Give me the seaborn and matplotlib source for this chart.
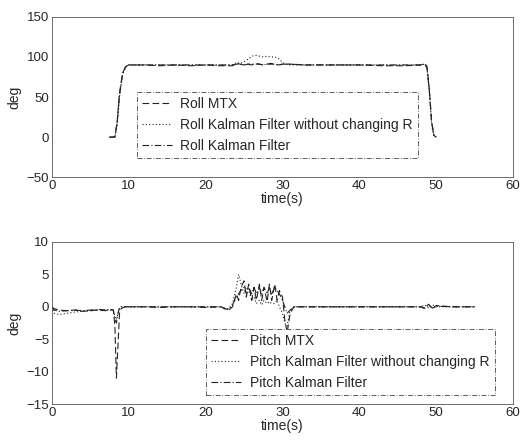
import numpy as np
import pandas as pd
import matplotlib
matplotlib.use("Agg")
import matplotlib.pyplot as plt
import seaborn as sns

# ---- roll data ----
roll_t = [7.5, 8.2, 8.5, 8.8, 9.2, 9.6, 10, 12, 14, 16, 18, 20, 22, 23.5, 24,
          24.5, 25, 25.5, 26, 26.5, 27, 27.5, 28, 28.5, 29, 29.5, 30, 30.5, 31,
          33, 35, 37, 40, 43, 46, 48, 48.5, 48.8, 49.1, 49.4, 49.7, 50]
roll_mtx = [0, 0, 20, 55, 80, 88, 90, 90, 89, 90, 89, 90, 89, 89, 92,
            91, 90, 91, 90, 92, 91, 90, 91, 92, 91, 90, 91, 91, 91,
            90, 90, 90, 90, 89, 89, 90, 92, 88, 60, 20, 2, 0]
roll_kf_noR = [0, 0, 15, 50, 78, 87, 90, 90, 90, 90, 90, 90, 90, 90, 93,
               92, 94, 97, 101, 102, 101, 100, 101, 100, 100, 98, 93, 91, 90,
               90, 90, 90, 90, 90, 90, 90, 91, 85, 55, 15, 1, 0]
roll_kf = [0, 0, 18, 52, 79, 88, 90, 90, 90, 90, 90, 90, 90, 90, 91,
           91, 90, 91, 91, 91, 91, 90, 91, 91, 91, 90, 91, 91, 91,
           90, 90, 90, 90, 90, 90, 90, 91, 86, 58, 18, 2, 0]

# ---- pitch data ----
pitch_t = [0, 0.3, 1, 2, 3, 4, 5, 6, 7, 7.5, 8, 8.2, 8.4, 8.6, 8.8, 9, 9.5, 10,
           11, 12, 14, 16, 18, 20, 22, 22.5, 23, 23.5, 24, 24.3, 24.6, 25, 25.3,
           25.6, 26, 26.3, 26.6, 27, 27.3, 27.6, 28, 28.3, 28.6, 29, 29.3, 29.6,
           30, 30.3, 30.6, 31, 31.5, 33, 36, 40, 44, 48, 48.5, 49, 49.5, 50, 52, 55]
pitch_mtx = [0, -0.3, -0.5, -0.6, -0.5, -0.7, -0.6, -0.5, -0.6, -0.4, -0.5, -3, -11, -6, -1, -0.3, 0, 0,
             0, 0, -0.1, 0, 0, -0.1, 0, -0.3, -0.5, 0, 2, 1, 3, 4, 1.5,
             3.5, 1, 3, 1, 3.5, 1, 3, 0.8, 3.5, 1, 3.5, 1, 2.5,
             1.5, -2, -4, -1, 0, 0, 0, 0, 0, 0, -0.3, 0.4, -0.3, 0.2, 0, 0]
pitch_kf_noR = [0, -1, -1.2, -1, -0.8, -0.7, -0.6, -0.5, -0.5, -0.5, -0.6, -1.5, -2, -1, -0.2, 0, 0, 0,
                0, 0, 0, 0, 0, 0, 0, -0.2, -0.3, 0.5, 3, 5, 3.5, 2, 3,
                2.5, 1, 1.5, 0.5, 1, 0.3, 1, 0.5, 0.8, 0.5, 0.5, 1, 0,
                -1, -2.5, -3, -0.5, 0, 0, 0, 0, 0, 0, 0.3, -0.2, 0.3, 0, 0, 0]
pitch_kf = [0, -0.5, -0.7, -0.6, -0.5, -0.6, -0.5, -0.4, -0.5, -0.4, -0.5, -2, -2.5, -1, -0.2, 0, 0, 0,
            0, 0, 0, 0, 0, 0, 0, -0.3, -0.4, 0.3, 1.5, 2, 2.5, 3, 2,
            3, 2, 3, 2, 3, 2, 3, 2, 3, 2, 3, 2.5, 2,
            1, 0, -1, -0.5, 0, 0, 0, 0, 0, 0, -0.2, 0.3, -0.2, 0.1, 0, 0]

sns.set_theme(style="white")
plt.rcParams['font.family'] = ['Liberation Sans', 'DejaVu Sans']

fig = plt.figure(figsize=(5.29, 4.44), dpi=100)
ax1 = fig.add_axes([0.098, 0.601, 0.872, 0.361])
ax2 = fig.add_axes([0.098, 0.090, 0.872, 0.365])

styles = [(0, (6, 3)), (0, (1, 2)), (0, (6, 2, 1, 2))]

roll_df = pd.DataFrame({"t": roll_t, "mtx": roll_mtx, "noR": roll_kf_noR, "kf": roll_kf})
pitch_df = pd.DataFrame({"t": pitch_t, "mtx": pitch_mtx, "noR": pitch_kf_noR, "kf": pitch_kf})

roll_labels = ["Roll MTX", "Roll Kalman Filter without changing R", "Roll Kalman Filter"]
pitch_labels = ["Pitch MTX", "Pitch Kalman Filter without changing R", "Pitch Kalman Filter"]

for ax, df, labels in [(ax1, roll_df, roll_labels), (ax2, pitch_df, pitch_labels)]:
    for col, lab, ls in zip(["mtx", "noR", "kf"], labels, styles):
        sns.lineplot(data=df, x="t", y=col, ax=ax, color="#222222", lw=0.8,
                     linestyle=ls, label=lab)

ax1.set_xlim(0, 60)
ax1.set_ylim(-50, 150)
ax1.set_yticks([-50, 0, 50, 100, 150])
ax2.set_xlim(0, 60)
ax2.set_ylim(-15, 10)
ax2.set_yticks([-15, -10, -5, 0, 5, 10])

for ax in (ax1, ax2):
    ax.set_xticks([0, 10, 20, 30, 40, 50, 60])
    ax.set_xlabel("time(s)", fontsize=10, labelpad=0)
    ax.set_ylabel("deg", fontsize=10, labelpad=4)
    ax.tick_params(direction="in", length=3, labelsize=9.5, pad=2, color="#444444")
    for s in ax.spines.values():
        s.set_color("#555555")
        s.set_linewidth(0.6)

leg1 = ax1.legend(loc="center", bbox_to_anchor=(0.169, 0.125, 0.64, 0.4), mode="expand",
                  fontsize=10, frameon=True, fancybox=False, handlelength=2.2,
                  handletextpad=0.6, borderpad=0.35, labelspacing=0.5)
leg2 = ax2.legend(loc="center", bbox_to_anchor=(0.319, 0.04, 0.657, 0.44), mode="expand",
                  fontsize=10, frameon=True, fancybox=False, handlelength=2.2,
                  handletextpad=0.6, borderpad=0.35, labelspacing=0.5)
for leg in (leg1, leg2):
    leg.get_frame().set_edgecolor("#444444")
    leg.get_frame().set_linewidth(0.6)
    leg.get_frame().set_linestyle((0, (6, 2, 1, 2)))
    leg.get_frame().set_alpha(1)

fig.savefig("out.png", dpi=100)
